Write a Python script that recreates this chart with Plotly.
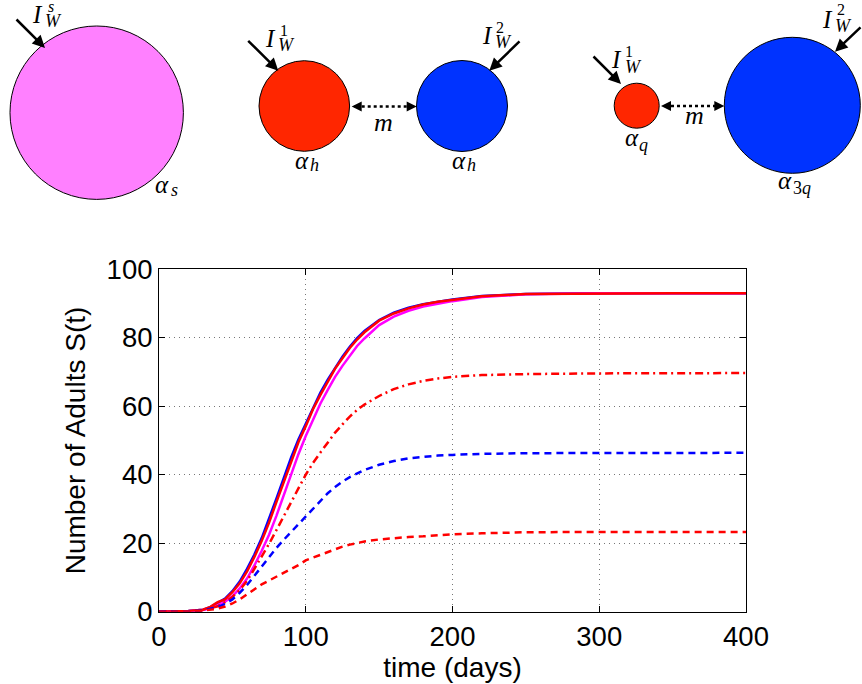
import plotly.graph_objects as go

# ---------------- data ----------------
days = [0, 10, 20, 30, 35, 40, 45, 50, 55, 60, 65, 70, 75, 80, 85, 90, 95, 100,
        105, 110, 115, 120, 125, 130, 135, 140, 150, 160, 170, 180, 190, 200,
        220, 250, 300, 350, 400]

blue_solid = [0, 0.05, 0.2, 0.6, 1.3, 2.6, 3.8, 6.0, 8.8, 12.5, 16.7, 21.5, 27, 33,
              39, 45, 50.3, 55, 59.8, 64, 67.8, 71.3, 74.5, 77.4, 79.9, 82, 85.2,
              87.3, 88.8, 89.8, 90.6, 91.2, 92.2, 92.8, 93, 93, 93]
red_solid = [0, 0.05, 0.2, 0.6, 1.4, 2.8, 3.6, 5.7, 8.3, 11.8, 16, 20.7, 26, 32,
             38, 44, 49.5, 54.2, 59.2, 63.3, 67.3, 71, 74, 77, 79.5, 81.6, 85,
             87.1, 88.6, 89.7, 90.5, 91.1, 92.1, 92.8, 93, 93, 93]
magenta_solid = [0, 0.04, 0.15, 0.5, 1.0, 1.9, 2.9, 4.5, 6.8, 9.7, 13.5, 17.8, 22.5,
                 28, 34, 40, 46, 51.3, 56.3, 60.8, 64.8, 68.6, 71.8, 74.8, 77.6, 79.8,
                 83.7, 86.2, 87.9, 89.1, 90.0, 90.7, 91.9, 92.7, 93, 93, 93]
red_dashdot = [0, 0.02, 0.1, 0.4, 0.9, 1.6, 2.8, 4.3, 6.3, 9, 12.5, 16, 19.8, 23.8,
               28, 32, 36, 40, 43.5, 46.5, 49.5, 52.3, 54.7, 57, 58.9, 60.5, 63,
               65, 66.4, 67.4, 68.1, 68.6, 69.1, 69.4, 69.6, 69.7, 69.7]
blue_dashed = [0, 0.02, 0.1, 0.4, 0.8, 1.3, 2.3, 3.6, 5.5, 7.8, 10.5, 13.3, 16, 18.6,
               21, 23.3, 25.5, 27.6, 30, 32.5, 34.6, 36.4, 38, 39.3, 40.4, 41.4, 42.9,
               44, 44.8, 45.3, 45.6, 45.8, 46.1, 46.3, 46.4, 46.4, 46.4]
red_dashed = [0, 0.02, 0.05, 0.3, 0.55, 0.9, 1.5, 2.4, 3.6, 5, 6.6, 8, 9.1, 10.2,
              11.2, 12.3, 13.6, 15, 15.8, 16.6, 17.5, 18.3, 19, 19.6, 20.1, 20.5, 21.1,
              21.5, 21.8, 22.0, 22.3, 22.6, 22.9, 23.2, 23.3, 23.3, 23.3]

x_ticks = [0, 100, 200, 300, 400]
y_ticks = [0, 20, 40, 60, 80, 100]

W, H = 862, 684
BLUE = "#0033FF"
RED = "#FF2600"
PINK = "#FF80FF"
LRED = "#FF0000"
LBLUE = "#0000FF"
LMAG = "#FF00FF"


def px(x):
    return x / W


def py(y):
    return 1 - y / H


fig = go.Figure()

lw = 2.5
fig.add_trace(go.Scatter(x=days, y=blue_solid, mode="lines",
                         line=dict(color=LBLUE, width=lw), showlegend=False))
fig.add_trace(go.Scatter(x=days, y=magenta_solid, mode="lines",
                         line=dict(color=LMAG, width=lw), showlegend=False))
fig.add_trace(go.Scatter(x=days, y=red_solid, mode="lines",
                         line=dict(color=LRED, width=lw), showlegend=False))
fig.add_trace(go.Scatter(x=days, y=red_dashdot, mode="lines",
                         line=dict(color=LRED, width=lw, dash="8px,4px,2px,4px"),
                         showlegend=False))
fig.add_trace(go.Scatter(x=days, y=blue_dashed, mode="lines",
                         line=dict(color=LBLUE, width=lw, dash="7px,5px"),
                         showlegend=False))
fig.add_trace(go.Scatter(x=days, y=red_dashed, mode="lines",
                         line=dict(color=LRED, width=lw, dash="7px,5px"),
                         showlegend=False))

sans = "Liberation Sans, Arial, sans-serif"
axis_font = dict(family=sans, size=27.5, color="black")
grid = dict(showgrid=True, gridcolor="#777777", griddash="1px,4px", gridwidth=1)

fig.update_layout(
    width=W, height=H,
    margin=dict(l=0, r=0, t=0, b=0, autoexpand=False),
    paper_bgcolor="white", plot_bgcolor="white",
    font=dict(family=sans, color="black"),
    showlegend=False,
    xaxis=dict(domain=[px(159), px(746)], range=[0, 400], tickvals=x_ticks,
               automargin=False,
               ticks="inside", ticklen=6, tickcolor="black", mirror="ticks",
               showline=True, linecolor="black", linewidth=1,
               zeroline=False, tickfont=axis_font, **grid,
               title=dict(text="time (days)", font=dict(family=sans, size=28, color="black"),
                          standoff=0)),
    yaxis=dict(domain=[py(611.7), py(269.3)], range=[0, 100], tickvals=y_ticks,
               automargin=False,
               ticks="inside", ticklen=6, tickcolor="black", mirror="ticks",
               showline=True, linecolor="black", linewidth=1,
               zeroline=False, tickfont=axis_font, **grid,
               title=dict(text="Number of Adults S(t)",
                          font=dict(family=sans, size=28, color="black"), standoff=12)),
)

# ---------------- diagram (top) ----------------
circles = [
    (96.7, 112.7, 86.7, PINK),
    (304.3, 106, 45.3, RED),
    (462, 106, 45.5, BLUE),
    (636.7, 105.7, 22.5, RED),
    (792.3, 105.3, 68, BLUE),
]
for cx, cy, r, col in circles:
    fig.add_shape(type="circle", xref="paper", yref="paper",
                  x0=px(cx - r), x1=px(cx + r), y0=py(cy + r), y1=py(cy - r),
                  fillcolor=col, line=dict(color="black", width=1), layer="above")

# solid arrows (tail -> head)
arrows = [
    ((15, 18), (45, 48)),
    ((246.7, 39.3), (278.3, 70.7)),
    ((521, 40), (489.3, 70.7)),
    ((592, 55), (621, 84)),
    ((862, 26), (835, 51.7)),
]
for (tx, ty), (hx, hy) in arrows:
    fig.add_annotation(x=px(hx), y=py(hy), xref="paper", yref="paper",
                       ax=tx - hx, ay=ty - hy, axref="pixel", ayref="pixel",
                       showarrow=True, arrowhead=2, arrowsize=1.0, arrowwidth=2.5,
                       arrowcolor="black", text="")

# dotted double arrows
dotted = [((351.7, 106.5), (416.7, 106.5)), ((661, 106), (724.3, 106))]
for (x0, y0), (x1, y1) in dotted:
    fig.add_shape(type="line", xref="paper", yref="paper",
                  x0=px(x0 + 4), x1=px(x1 - 4), y0=py(y0), y1=py(y1),
                  line=dict(color="black", width=2.5, dash="dot"), layer="above")
    for hx, sign in ((x0, 1), (x1, -1)):
        fig.add_annotation(x=px(hx), y=py(y0), xref="paper", yref="paper",
                           ax=sign * 7, ay=0, axref="pixel", ayref="pixel",
                           showarrow=True, arrowhead=2, arrowsize=1.0, arrowwidth=2,
                           arrowcolor="black", text="")

serif = "Liberation Serif, DejaVu Serif, serif"


def label(x, y, t, size):
    fig.add_annotation(x=px(x), y=py(y), xref="paper", yref="paper", text=t,
                       showarrow=False, font=dict(family=serif, size=size, color="black"),
                       xanchor="center", yanchor="middle")


# I_W^k labels built from stacked pieces: (I centre, sup centre, sup text, W centre)
iw_labels = [
    ((37, 14.5), (51, 7), "<i>s</i>", (53, 21)),
    ((270.5, 38), (283.5, 30.5), "1", (286.5, 45)),
    ((487, 35), (500, 27), "2", (503.5, 42)),
    ((616.5, 59), (628.5, 52), "1", (633, 67)),
    ((827, 19), (840.5, 9), "2", (843, 26)),
]
for (ix, iy), (sx, sy), st, (wx, wy) in iw_labels:
    label(ix, iy, "<i>I</i>", 25)
    label(sx, sy, st, 16)
    label(wx, wy, "<i>W</i>", 18)

# alpha labels: (alpha centre, subscript centre, subscript text)
alpha_labels = [
    ((162, 184.5), (174, 190), "<i>s</i>"),
    ((301.5, 160.5), (314, 165), "<i>h</i>"),
    ((458.5, 160.5), (471, 165), "<i>h</i>"),
    ((632, 137.5), (643, 144.5), "<i>q</i>"),
    ((784.5, 181), (801.5, 188), "3<i>q</i>"),
]
for (ax_, ay_), (sx, sy), st in alpha_labels:
    label(ax_, ay_, "<i>α</i>", 25)
    label(sx, sy, st, 18)

label(383.5, 122.5, "<i>m</i>", 26)
label(694.5, 116, "<i>m</i>", 26)

fig.write_html(
    "out.html",
    config={"displayModeBar": False},
    post_script="document.body.style.margin='0';document.body.style.overflow='hidden';",
)
